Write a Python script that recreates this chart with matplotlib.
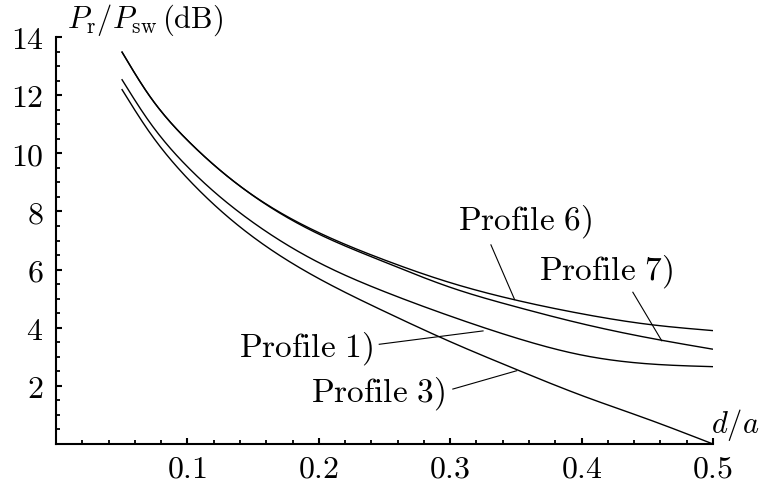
import numpy as np
import matplotlib
matplotlib.use("Agg")
import matplotlib.pyplot as plt
from matplotlib.ticker import MultipleLocator

plt.rcParams['mathtext.fontset'] = 'cm'
plt.rcParams['font.family'] = ['DejaVu Serif']

x = [0.05, 0.07, 0.10, 0.15, 0.20, 0.25, 0.30, 0.35, 0.40, 0.45, 0.50]
profile6 = [13.50, 12.05, 10.45, 8.55, 7.27, 6.33, 5.55, 4.95, 4.48, 4.12, 3.90]
profile7 = [13.50, 12.05, 10.45, 8.54, 7.22, 6.26, 5.39, 4.72, 4.14, 3.66, 3.26]
profile1 = [12.55, 11.15, 9.54, 7.62, 6.24, 5.24, 4.40, 3.65, 3.06, 2.76, 2.66]
profile3 = [12.21, 10.80, 9.14, 7.12, 5.69, 4.56, 3.52, 2.57, 1.67, 0.86, 0.00]

xticks = [0.1, 0.2, 0.3, 0.4, 0.5]
xtick_labels = ['0.1', '0.2', '0.3', '0.4', '0.5']
yticks = [2, 4, 6, 8, 10, 12, 14]
ytick_labels = ['2', '4', '6', '8', '10', '12', '14']


def spline(xs, ys, n=400):
    """Natural cubic spline through the read points (drawing aid only)."""
    xs = np.asarray(xs, float); ys = np.asarray(ys, float)
    k = len(xs)
    h = np.diff(xs)
    A = np.zeros((k, k)); b = np.zeros(k)
    A[0, 0] = A[-1, -1] = 1.0
    for i in range(1, k - 1):
        A[i, i - 1] = h[i - 1]
        A[i, i] = 2 * (h[i - 1] + h[i])
        A[i, i + 1] = h[i]
        b[i] = 6 * ((ys[i + 1] - ys[i]) / h[i] - (ys[i] - ys[i - 1]) / h[i - 1])
    M = np.linalg.solve(A, b)
    xx = np.linspace(xs[0], xs[-1], n)
    idx = np.clip(np.searchsorted(xs, xx) - 1, 0, k - 2)
    x0, x1 = xs[idx], xs[idx + 1]
    hh = x1 - x0
    a = (x1 - xx) / hh; c = (xx - x0) / hh
    yy = (a * ys[idx] + c * ys[idx + 1]
          + ((a ** 3 - a) * M[idx] + (c ** 3 - c) * M[idx + 1]) * hh ** 2 / 6)
    return xx, yy


fig = plt.figure(figsize=(7.61, 4.86), dpi=100)
ax = fig.add_axes([56/761, 42/486, 657/761, 407/486])

for ys in (profile6, profile7, profile1, profile3):
    sx, sy = spline(x, ys)
    ax.plot(sx, sy, color='black', lw=1.0, solid_capstyle='butt')

ax.set_xlim(0, 0.5)
ax.set_ylim(0, 14)
for s in ('top', 'right'):
    ax.spines[s].set_visible(False)
for s in ('left', 'bottom'):
    ax.spines[s].set_linewidth(1.5)

ax.set_xticks(xticks)
ax.set_xticklabels(['$' + t + '$' for t in xtick_labels])
ax.set_yticks(yticks)
ax.set_yticklabels(['$' + t + '$' for t in ytick_labels])
ax.xaxis.set_minor_locator(MultipleLocator(0.02))
ax.yaxis.set_minor_locator(MultipleLocator(0.5))
ax.tick_params(which='major', direction='in', length=4.5, width=1.5, labelsize=23)
ax.tick_params(axis='y', which='major', pad=9)
ax.tick_params(axis='x', which='major', pad=7)
ax.tick_params(which='minor', direction='in', length=3, width=1.3)

ax.text(0.0084, 14.31, r'$P_{\rm r}/P_{\rm sw}\,({\rm dB})$', fontsize=22,
        ha='left', va='baseline', clip_on=False)
ax.text(0.535, 0.38, r'$d/a$', fontsize=22, ha='right', va='baseline', clip_on=False)

def label(text, tx, ty, x0, y0, x1, y1):
    ax.text(tx, ty, text, fontsize=24, ha='center', va='center')
    ax.plot([x0, x1], [y0, y1], color='black', lw=0.8)

label(r'$\mathrm{Profile\ 6)}$', 0.357, 7.64, 0.331, 6.85, 0.349, 4.97)
label(r'$\mathrm{Profile\ 7)}$', 0.4186, 5.92, 0.439, 5.22, 0.461, 3.55)
label(r'$\mathrm{Profile\ 1)}$', 0.190, 3.27, 0.246, 3.43, 0.325, 3.89)
label(r'$\mathrm{Profile\ 3)}$', 0.2453, 1.74, 0.302, 1.89, 0.3506, 2.52)

fig.savefig('out.png', dpi=100)
